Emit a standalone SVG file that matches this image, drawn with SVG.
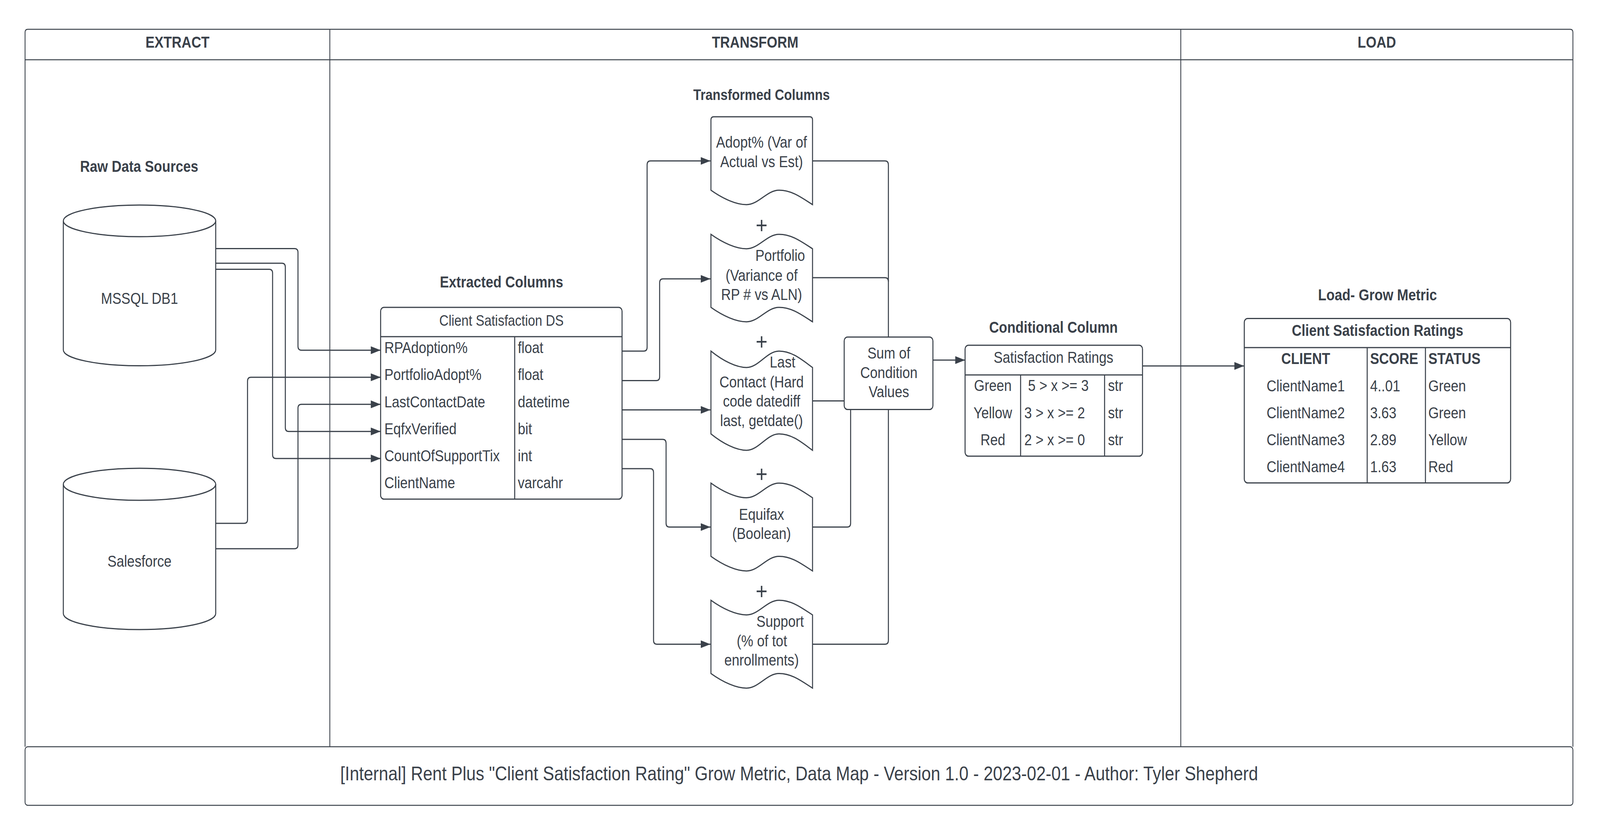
<svg xmlns="http://www.w3.org/2000/svg" width="4725" height="2138" viewBox="0 0 4725 2138" preserveAspectRatio="none" style="width:100vw;height:100vh;display:block">
<style>
.ln{fill:none;stroke:#3a414a;stroke-width:3}
.pl{fill:none;stroke:#3a414a;stroke-width:2.5}
.sh{fill:#ffffff;stroke:#3a414a;stroke-width:3}
.t{font-family:"Liberation Sans",Arial,Helvetica,sans-serif;font-size:40px;fill:#3a414a}
.b{font-weight:bold}
.m{text-anchor:middle}
</style>
<defs>
<marker id="arr" markerWidth="29" markerHeight="20" refX="29" refY="10" orient="auto" markerUnits="userSpaceOnUse">
<path d="M0,0 L29,10 L0,20 Z" fill="#3a414a"/>
</marker>
</defs>
<rect x="0" y="0" width="4725" height="2138" fill="#ffffff"/>

<g id="pool">
<path class="pl" d="M74,1912 V83 Q74,75 82,75 H4637 Q4645,75 4645,83 V1912"/>
<path class="pl" d="M74,153 H4645 M974,75 V1912 M3487,75 V1912"/>
<text class="t b m" x="524" y="122">EXTRACT</text>
<text class="t b m" x="2230" y="122">TRANSFORM</text>
<text class="t b m" x="4066" y="122">LOAD</text>
</g>

<g id="footer">
<rect class="pl" x="74" y="1912" width="4571" height="150" rx="8"/>
<text class="t m" x="2360" y="1998" style="font-size:50px">[Internal] Rent Plus "Client Satisfaction Rating" Grow Metric, Data Map - Version 1.0 - 2023-02-01 - Author: Tyler Shepherd</text>
</g>

<g id="labels">
<text class="t b m" x="411" y="440">Raw Data Sources</text>
<text class="t b m" x="1481" y="736">Extracted Columns</text>
<text class="t b m" x="2249" y="256" style="font-size:38px">Transformed Columns</text>
<text class="t b m" x="3111" y="852">Conditional Column</text>
<text class="t b m" x="4068" y="769">Load- Grow Metric</text>
</g>

<g id="connectors">
<path class="ln" marker-end="url(#arr)" d="M637,636.5 H870 Q880,636.5 880,646.5 V886.7 Q880,896.7 890,896.7 H1124"/>
<path class="ln" marker-end="url(#arr)" d="M637,674 H832.6 Q842.6,674 842.6,684 V1094.7 Q842.6,1104.7 852.6,1104.7 H1124"/>
<path class="ln" marker-end="url(#arr)" d="M637,689.5 H795 Q805,689.5 805,699.5 V1164 Q805,1174 815,1174 H1124"/>
<path class="ln" marker-end="url(#arr)" d="M637,1340 H721 Q731,1340 731,1330 V976 Q731,966 741,966 H1124"/>
<path class="ln" marker-end="url(#arr)" d="M637,1405 H870 Q880,1405 880,1395 V1045.3 Q880,1035.3 890,1035.3 H1124"/>

<path class="ln" marker-end="url(#arr)" d="M1837,899 H1901 Q1911,899 1911,889 V422 Q1911,412 1921,412 H2098"/>
<path class="ln" marker-end="url(#arr)" d="M1837,974.5 H1938 Q1948,974.5 1948,964.5 V724 Q1948,714 1958,714 H2098"/>
<path class="ln" marker-end="url(#arr)" d="M1837,1049.5 H2098"/>
<path class="ln" marker-end="url(#arr)" d="M1837,1125 H1957 Q1967,1125 1967,1135 V1339.5 Q1967,1349.5 1977,1349.5 H2098"/>
<path class="ln" marker-end="url(#arr)" d="M1837,1200 H1920 Q1930,1200 1930,1210 V1639.5 Q1930,1649.5 1940,1649.5 H2098"/>

<path class="ln" d="M2399.5,412 H2613.5 Q2623.5,412 2623.5,422 V863"/>
<path class="ln" d="M2399.5,711 H2613.5 Q2623.5,711 2623.5,721"/>
<path class="ln" d="M2399.5,1026.5 H2493"/>
<path class="ln" d="M2399.5,1349.5 H2502 Q2512,1349.5 2512,1339.5 V1048.5"/>
<path class="ln" d="M2399.5,1649.5 H2613.5 Q2623.5,1649.5 2623.5,1639.5 V1048.5"/>

<path class="ln" marker-end="url(#arr)" d="M2755,922 H2850"/>
<path class="ln" marker-end="url(#arr)" d="M3374,937 H3674"/>
</g>

<g id="mssql">
<path class="sh" d="M187,565.5 A225,40.5 0 0 1 637,565.5 V896 A225,40.5 0 0 1 187,896 Z"/>
<path class="ln" d="M187,565.5 A225,40.5 0 0 0 637,565.5"/>
<text class="t m" x="412" y="778">MSSQL DB1</text>
</g>

<g id="salesforce">
<path class="sh" d="M187,1240 A225,41 0 0 1 637,1240 V1571 A225,41 0 0 1 187,1571 Z"/>
<path class="ln" d="M187,1240 A225,41 0 0 0 637,1240"/>
<text class="t m" x="412" y="1451">Salesforce</text>
</g>

<g id="extracted-table">
<rect class="sh" x="1124" y="787" width="713" height="491" rx="10"/>
<path class="ln" d="M1124,862 H1837 M1520,862 V1278"/>
<text class="t m" x="1481" y="834" style="font-size:38px">Client Satisfaction DS</text>
<text class="t" x="1135" y="904">RPAdoption%</text>
<text class="t" x="1135" y="973">PortfolioAdopt%</text>
<text class="t" x="1135" y="1043">LastContactDate</text>
<text class="t" x="1135" y="1112">EqfxVerified</text>
<text class="t" x="1135" y="1181">CountOfSupportTix</text>
<text class="t" x="1135" y="1250">ClientName</text>
<text class="t" x="1529" y="904">float</text>
<text class="t" x="1529" y="973">float</text>
<text class="t" x="1529" y="1043">datetime</text>
<text class="t" x="1529" y="1112">bit</text>
<text class="t" x="1529" y="1181">int</text>
<text class="t" x="1529" y="1250">varcahr</text>
</g>

<g id="doc-adopt">
<path class="sh" d="M2099.5,307 Q2099.5,299 2107.5,299 H2391.5 Q2399.5,299 2399.5,307 V524 C2369.5,507.4 2339.5,487 2300.5,487 C2264.5,487 2240.5,524 2204.5,524 C2174.5,524 2135.5,509.2 2099.5,487 Z"/>
<text class="t m" x="2249" y="378">Adopt% (Var of</text>
<text class="t m" x="2249" y="428">Actual vs Est)</text>
</g>

<g id="doc-portfolio">
<path class="sh" d="M2099.5,600 C2135.5,622.2 2174.5,637 2204.5,637 C2240.5,637 2264.5,600 2300.5,600 C2339.5,600 2369.5,620.4 2399.5,637 V824 C2369.5,807.4 2339.5,787 2300.5,787 C2264.5,787 2240.5,824 2204.5,824 C2174.5,824 2135.5,809.2 2099.5,787 Z"/>
<text class="t m" x="2304" y="668">Portfolio</text>
<text class="t m" x="2249" y="719">(Variance of</text>
<text class="t m" x="2249" y="768">RP # vs ALN)</text>
</g>

<g id="doc-lastcontact">
<path class="sh" d="M2099.5,899 C2135.5,924.2 2174.5,941 2204.5,941 C2240.5,941 2264.5,899 2300.5,899 C2339.5,899 2369.5,922.1 2399.5,941 V1153 C2369.5,1134.1 2339.5,1111 2300.5,1111 C2264.5,1111 2240.5,1153 2204.5,1153 C2174.5,1153 2135.5,1136.2 2099.5,1111 Z"/>
<text class="t m" x="2311" y="941">Last</text>
<text class="t m" x="2249" y="992">Contact (Hard</text>
<text class="t m" x="2249" y="1041">code datediff</text>
<text class="t m" x="2249" y="1091">last, getdate()</text>
</g>

<g id="doc-equifax">
<path class="sh" d="M2099.5,1237 C2135.5,1259.5 2174.5,1274.5 2204.5,1274.5 C2240.5,1274.5 2264.5,1237 2300.5,1237 C2339.5,1237 2369.5,1257.6 2399.5,1274.5 V1462 C2369.5,1445.1 2339.5,1424.5 2300.5,1424.5 C2264.5,1424.5 2240.5,1462 2204.5,1462 C2174.5,1462 2135.5,1447 2099.5,1424.5 Z"/>
<text class="t m" x="2249" y="1331">Equifax</text>
<text class="t m" x="2249" y="1380">(Boolean)</text>
</g>

<g id="doc-support">
<path class="sh" d="M2099.5,1537 C2135.5,1559.5 2174.5,1574.5 2204.5,1574.5 C2240.5,1574.5 2264.5,1537 2300.5,1537 C2339.5,1537 2369.5,1557.6 2399.5,1574.5 V1762 C2369.5,1745.1 2339.5,1724.5 2300.5,1724.5 C2264.5,1724.5 2240.5,1762 2204.5,1762 C2174.5,1762 2135.5,1747 2099.5,1724.5 Z"/>
<text class="t m" x="2304" y="1605">Support</text>
<text class="t m" x="2250" y="1655">(% of tot</text>
<text class="t m" x="2249" y="1704">enrollments)</text>
</g>

<g id="plus-signs">
<text class="t m" x="2249" y="597" style="font-size:60px">+</text>
<text class="t m" x="2249" y="895" style="font-size:60px">+</text>
<text class="t m" x="2249" y="1234" style="font-size:60px">+</text>
<text class="t m" x="2249" y="1534" style="font-size:60px">+</text>
</g>

<g id="sum-box">
<rect class="sh" x="2493" y="863" width="262" height="185.5" rx="10"/>
<text class="t m" x="2625" y="918">Sum of</text>
<text class="t m" x="2625" y="968">Condition</text>
<text class="t m" x="2625" y="1017">Values</text>
</g>

<g id="conditional-table">
<rect class="sh" x="2850" y="884" width="524" height="284" rx="10"/>
<path class="ln" d="M2850,960 H3374 M3014,960 V1168 M3262,960 V1168"/>
<text class="t m" x="3111" y="929">Satisfaction Ratings</text>
<text class="t m" x="2932" y="1001">Green</text>
<text class="t m" x="2932" y="1071">Yellow</text>
<text class="t m" x="2932" y="1140">Red</text>
<text class="t" x="3036" y="1001">5 &gt; x &gt;= 3</text>
<text class="t" x="3025" y="1071">3 &gt; x &gt;= 2</text>
<text class="t" x="3025" y="1140">2 &gt; x &gt;= 0</text>
<text class="t" x="3272" y="1001">str</text>
<text class="t" x="3272" y="1071">str</text>
<text class="t" x="3272" y="1140">str</text>
</g>

<g id="load-table">
<rect class="sh" x="3674.5" y="815.5" width="786.5" height="421" rx="10"/>
<path class="ln" d="M3674.5,890 H4461 M4037.5,890 V1236.5 M4209.5,890 V1236.5"/>
<text class="t b m" x="4068" y="860">Client Satisfaction Ratings</text>
<text class="t b m" x="3856" y="932">CLIENT</text>
<text class="t b" x="4046" y="932">SCORE</text>
<text class="t b" x="4218" y="932">STATUS</text>
<text class="t m" x="3856" y="1002">ClientName1</text>
<text class="t m" x="3856" y="1071">ClientName2</text>
<text class="t m" x="3856" y="1140">ClientName3</text>
<text class="t m" x="3856" y="1209">ClientName4</text>
<text class="t" x="4046" y="1002">4..01</text>
<text class="t" x="4046" y="1071">3.63</text>
<text class="t" x="4046" y="1140">2.89</text>
<text class="t" x="4046" y="1209">1.63</text>
<text class="t" x="4218" y="1002">Green</text>
<text class="t" x="4218" y="1071">Green</text>
<text class="t" x="4218" y="1140">Yellow</text>
<text class="t" x="4218" y="1209">Red</text>
</g>
</svg>
